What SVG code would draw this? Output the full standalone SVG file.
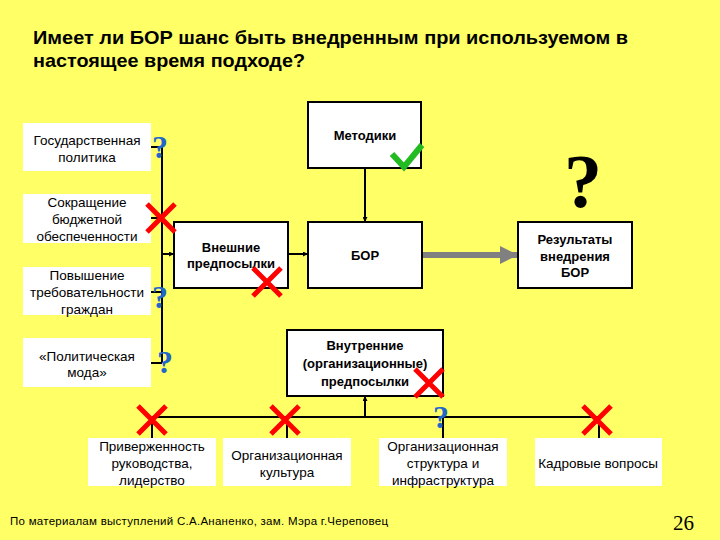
<svg xmlns="http://www.w3.org/2000/svg" width="720" height="540" viewBox="0 0 720 540">
<defs>
<style>
.lbl{font-family:"Liberation Sans",Arial,sans-serif;font-size:13.5px;fill:#000;text-anchor:middle}
.bl{font-family:"Liberation Sans",Arial,sans-serif;font-size:13px;font-weight:bold;fill:#000;text-anchor:middle}
.wb{fill:#fff}
.box{fill:#fff;stroke:#000;stroke-width:2}
.ln{stroke:#000;stroke-width:2;fill:none}
.x{stroke:#ff0000;stroke-width:5;stroke-linecap:butt}
.q{font-family:"Liberation Serif","Times New Roman",serif;font-weight:bold;font-size:32px;fill:#2266cc;text-anchor:middle}
</style>
<marker id="ah" viewBox="0 0 10 10" refX="10" refY="5" markerWidth="5" markerHeight="5" orient="auto" markerUnits="userSpaceOnUse">
<path d="M0,0 L10,5 L0,10 z" fill="#000"/>
</marker>
<marker id="gh" viewBox="0 0 10 10" refX="10" refY="5" markerWidth="18" markerHeight="18" orient="auto" markerUnits="userSpaceOnUse">
<path d="M0,0 L10,5 L0,10 z" fill="#808080"/>
</marker>
</defs>
<rect x="0" y="0" width="720" height="540" fill="#ffff66"/>
<g id="title" font-family="'Liberation Sans',Arial,sans-serif" font-weight="bold" font-size="18.5" fill="#000">
<text x="33" y="44" textLength="595" lengthAdjust="spacingAndGlyphs">Имеет ли БОР шанс быть внедренным при используемом в</text>
<text x="33" y="67" textLength="272" lengthAdjust="spacingAndGlyphs">настоящее время подходе?</text>
</g>
<g id="connectors">
<line class="ln" x1="162" y1="147" x2="162" y2="363"/>
<line class="ln" x1="151" y1="147" x2="162" y2="147"/>
<line class="ln" x1="151" y1="218" x2="162" y2="218"/>
<line class="ln" x1="151" y1="292" x2="162" y2="292"/>
<line class="ln" x1="151" y1="363" x2="162" y2="363"/>
<line class="ln" x1="162" y1="254" x2="174" y2="254" marker-end="url(#ah)"/>
<line class="ln" x1="288" y1="254" x2="308" y2="254" marker-end="url(#ah)"/>
<line class="ln" x1="365" y1="168" x2="365" y2="222" marker-end="url(#ah)"/>
<line x1="422" y1="255" x2="518" y2="255" stroke="#808080" stroke-width="6" marker-end="url(#gh)"/>
<line class="ln" x1="365" y1="417" x2="365" y2="396" marker-end="url(#ah)"/>
<line class="ln" x1="152" y1="417" x2="599" y2="417"/>
<line class="ln" x1="152" y1="417" x2="152" y2="438"/>
<line class="ln" x1="287" y1="417" x2="287" y2="438"/>
<line class="ln" x1="443" y1="417" x2="443" y2="438"/>
<line class="ln" x1="599" y1="417" x2="599" y2="438"/>
</g>
<g id="gos"><rect class="wb" x="23" y="123" width="128" height="48"/>
<text class="lbl" x="87" y="145">Государственная</text><text class="lbl" x="87" y="162">политика</text></g>
<g id="sokr"><rect class="wb" x="23" y="194" width="128" height="49"/>
<text class="lbl" x="87" y="207">Сокращение</text><text class="lbl" x="87" y="224">бюджетной</text><text class="lbl" x="87" y="241">обеспеченности</text></g>
<g id="povysh"><rect class="wb" x="23" y="267" width="128" height="48"/>
<text class="lbl" x="87" y="280">Повышение</text><text class="lbl" x="87" y="297">требовательности</text><text class="lbl" x="87" y="314">граждан</text></g>
<g id="moda"><rect class="wb" x="23" y="338" width="128" height="49"/>
<text class="lbl" x="87" y="361">«Политическая</text><text class="lbl" x="87" y="377">мода»</text></g>
<g id="vneshnie"><rect class="box" x="174" y="222" width="114" height="66"/>
<text class="bl" x="231" y="252">Внешние</text><text class="bl" x="231" y="268">предпосылки</text></g>
<g id="metodiki"><rect class="box" x="308" y="102" width="113" height="66"/>
<text class="bl" x="365" y="140">Методики</text></g>
<g id="bor"><rect class="box" x="308" y="222" width="114" height="66"/>
<text class="bl" x="365" y="260">БОР</text></g>
<g id="rezultaty"><rect class="box" x="518" y="222" width="114" height="66"/>
<text class="bl" x="575" y="244">Результаты</text><text class="bl" x="575" y="261">внедрения</text><text class="bl" x="575" y="277">БОР</text></g>
<g id="vnutrennie"><rect class="box" x="287" y="330" width="156" height="66"/>
<text class="bl" x="365" y="350">Внутренние</text><text class="bl" x="365" y="368">(организационные)</text><text class="bl" x="365" y="386">предпосылки</text></g>
<g id="priv"><rect class="wb" x="88" y="438" width="128" height="48"/>
<text class="lbl" x="152" y="451">Приверженность</text><text class="lbl" x="152" y="468">руководства,</text><text class="lbl" x="152" y="485">лидерство</text></g>
<g id="kult"><rect class="wb" x="223" y="438" width="128" height="48"/>
<text class="lbl" x="287" y="460">Организационная</text><text class="lbl" x="287" y="477">культура</text></g>
<g id="strukt"><rect class="wb" x="379" y="438" width="128" height="48"/>
<text class="lbl" x="443" y="451">Организационная</text><text class="lbl" x="443" y="468">структура и</text><text class="lbl" x="443" y="485">инфраструктура</text></g>
<g id="kadry"><rect class="wb" x="535" y="438" width="127" height="48"/>
<text class="lbl" x="598" y="468">Кадровые вопросы</text></g>
<g id="marks">
<path class="x" d="M147,204 L175,232 M175,204 L147,232"/>
<path class="x" d="M253,268 L281,296 M281,268 L253,296"/>
<path class="x" d="M415,369 L443,397 M443,369 L415,397"/>
<path class="x" d="M138,406 L166,434 M166,406 L138,434"/>
<path class="x" d="M271,406 L299,434 M299,406 L271,434"/>
<path class="x" d="M583,406 L611,434 M611,406 L583,434"/>
<polyline points="392,154 404,167 422,145" fill="none" stroke="#22bb22" stroke-width="6"/>
<text class="q" x="160" y="158">?</text>
<text class="q" x="160" y="308">?</text>
<text class="q" x="165" y="373">?</text>
<text class="q" x="441" y="428">?</text>
<text x="583" y="207" font-family="'Liberation Serif','Times New Roman',serif" font-weight="bold" font-size="76" text-anchor="middle" fill="#000">?</text>
</g>
<g id="footer">
<text x="10" y="525" font-family="'Liberation Sans',Arial,sans-serif" font-size="11.5" fill="#000" textLength="378" lengthAdjust="spacing">По материалам выступлений С.А.Ананенко, зам. Мэра г.Череповец</text>
<text x="673" y="530" font-family="'Liberation Serif','Times New Roman',serif" font-size="21" fill="#000">26</text>
</g>
</svg>
